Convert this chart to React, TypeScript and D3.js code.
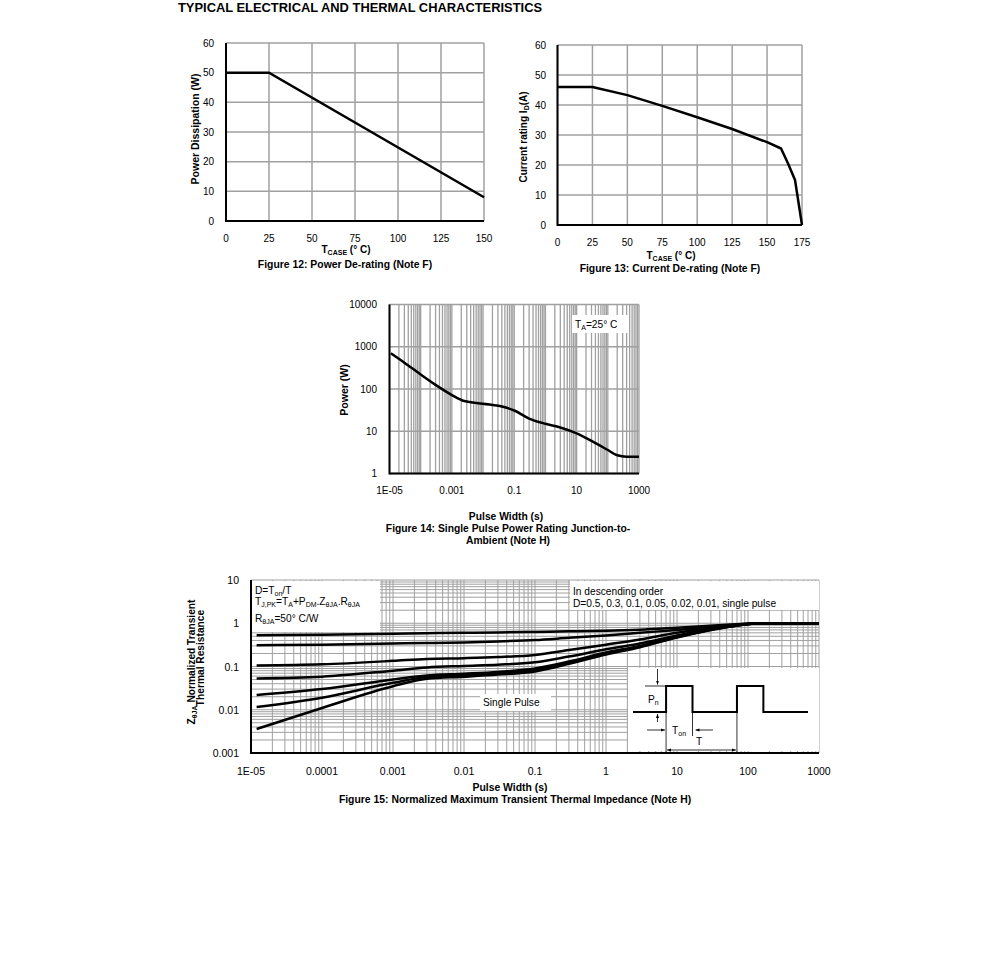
import React from 'react';
import * as d3 from 'd3';

const FONT = "'Liberation Sans', Arial, Helvetica, sans-serif";
const GRID = '#a0a0a0';
const INK = '#000';

// Figure 12: power de-rating
const fig12Temp = [0, 25, 150];
const fig12Power = [50, 50, 8];
const fig12XTicks = [0, 25, 50, 75, 100, 125, 150];
const fig12YTicks = [0, 10, 20, 30, 40, 50, 60];

// Figure 13: current de-rating
const fig13Temp = [0, 25, 50, 75, 100, 125, 150, 160, 165, 170, 175];
const fig13Current = [46, 46, 43.3, 39.7, 35.9, 32, 27.6, 25.5, 20.5, 15, 0];
const fig13XTicks = [0, 25, 50, 75, 100, 125, 150, 175];
const fig13YTicks = [0, 10, 20, 30, 40, 50, 60];

// Figure 14: single pulse power rating
const fig14Width = [1.1e-5, 3e-5, 1e-4, 3e-4, 1e-3, 2.5e-3, 0.01, 0.05, 0.1, 0.3, 1, 3, 10, 30, 100, 200, 400, 1000];
const fig14Power = [700, 420, 220, 125, 72, 52, 45, 37, 31, 20, 15, 12.3, 8.9, 5.9, 3.6, 2.7, 2.5, 2.5];
const fig14XTicks = [1e-5, 1e-3, 0.1, 10, 1000];
const fig14XLabels = ['1E-05', '0.001', '0.1', '10', '1000'];
const fig14YTicks = [1, 10, 100, 1000, 10000];
const fig14YLabels = ['1', '10', '100', '1000', '10000'];

// Figure 15: normalized transient thermal impedance
const fig15Time = [1.2e-5, 1e-4, 1e-3, 3e-3, 0.01, 0.03, 0.1, 0.3, 1, 3, 10, 50, 150, 1000];
const fig15D05 = [0.53, 0.54, 0.57, 0.59, 0.6, 0.61, 0.63, 0.65, 0.67, 0.71, 0.79, 0.92, 1, 1];
const fig15D03 = [0.31, 0.32, 0.34, 0.35, 0.36, 0.38, 0.41, 0.46, 0.52, 0.6, 0.7, 0.88, 1, 1];
const fig15D01 = [0.105, 0.112, 0.135, 0.15, 0.156, 0.165, 0.185, 0.24, 0.32, 0.42, 0.6, 0.86, 1, 1];
const fig15D005 = [0.053, 0.058, 0.08, 0.095, 0.103, 0.11, 0.125, 0.17, 0.25, 0.34, 0.52, 0.84, 1, 1];
const fig15D002 = [0.022, 0.03, 0.05, 0.062, 0.068, 0.075, 0.09, 0.13, 0.21, 0.3, 0.49, 0.82, 1, 1];
const fig15D001 = [0.0116, 0.019, 0.042, 0.057, 0.063, 0.07, 0.083, 0.12, 0.2, 0.29, 0.48, 0.82, 1, 1];
const fig15Single = [0.0036, 0.011, 0.035, 0.052, 0.058, 0.065, 0.077, 0.115, 0.19, 0.28, 0.47, 0.81, 1, 1];
const fig15Series = [fig15D05, fig15D03, fig15D01, fig15D005, fig15D002, fig15D001, fig15Single];
const fig15XTicks = [1e-5, 1e-4, 1e-3, 0.01, 0.1, 1, 10, 100, 1000];
const fig15XLabels = ['1E-05', '0.0001', '0.001', '0.01', '0.1', '1', '10', '100', '1000'];
const fig15YTicks = [0.001, 0.01, 0.1, 1, 10];
const fig15YLabels = ['0.001', '0.01', '0.1', '1', '10'];

// inset pulse train, in fractions of the inset width
const pulseEdges = [0, 0.189, 0.34, 0.594, 0.745, 1];

const minorTicks = (lo: number, hi: number) => {
  const out: number[] = [];
  for (let e = lo; e < hi; e++) for (let m = 1; m <= 9; m++) out.push(m * Math.pow(10, e));
  out.push(Math.pow(10, hi));
  return out;
};

const tick = { fontFamily: FONT, fontSize: 10, fill: INK } as const;
const bold = { fontFamily: FONT, fontWeight: 700, fill: INK } as const;

const Figure12 = () => {
  const x = d3.scaleLinear().domain([0, 150]).range([226, 484]);
  const y = d3.scaleLinear().domain([0, 60]).range([221, 43]);
  const line = d3.line<number>().x((_, i) => x(fig12Temp[i])).y(d => y(d));
  return (
    <g>
      {fig12XTicks.map(t => <line key={'gx' + t} x1={x(t)} x2={x(t)} y1={y(0)} y2={y(60)} stroke={GRID} strokeWidth={1.5} />)}
      {fig12YTicks.map(t => <line key={'gy' + t} x1={x(0)} x2={x(150)} y1={y(t)} y2={y(t)} stroke={GRID} strokeWidth={1.5} />)}
      <line x1={x(0)} x2={x(0)} y1={y(60)} y2={y(0) + 1} stroke={INK} strokeWidth={2} />
      <line x1={x(0)} x2={x(150)} y1={y(0)} y2={y(0)} stroke={INK} strokeWidth={2} />
      <path d={line(fig12Power) || ''} fill="none" stroke={INK} strokeWidth={2.5} />
      {fig12XTicks.map(t => <text key={'tx' + t} x={x(t)} y={241.5} textAnchor="middle" {...tick}>{t}</text>)}
      {fig12YTicks.map(t => <text key={'ty' + t} x={214} y={y(t) + 3.5} textAnchor="end" {...tick}>{t}</text>)}
      <text transform="translate(199,129) rotate(-90)" textAnchor="middle" fontSize={10.5} {...bold}>Power Dissipation (W)</text>
      <text x={346} y={253} textAnchor="middle" fontSize={10} {...bold}>T<tspan fontSize={7} dy={2}>CASE</tspan><tspan dy={-2}> (°  C)</tspan></text>
      <text x={345} y={267.5} textAnchor="middle" fontSize={10.4} {...bold}>Figure 12: Power De-rating (Note F)</text>
    </g>
  );
};

const Figure13 = () => {
  const x = d3.scaleLinear().domain([0, 175]).range([557.5, 802]);
  const y = d3.scaleLinear().domain([0, 60]).range([225, 45]);
  const line = d3.line<number>().x((_, i) => x(fig13Temp[i])).y(d => y(d));
  return (
    <g>
      {fig13XTicks.map(t => <line key={'gx' + t} x1={x(t)} x2={x(t)} y1={y(0)} y2={y(60)} stroke={GRID} strokeWidth={1.5} />)}
      {fig13YTicks.map(t => <line key={'gy' + t} x1={x(0)} x2={x(175)} y1={y(t)} y2={y(t)} stroke={GRID} strokeWidth={1.5} />)}
      <line x1={x(0)} x2={x(0)} y1={y(60)} y2={y(0) + 1} stroke={INK} strokeWidth={2} />
      <line x1={x(0)} x2={x(175)} y1={y(0)} y2={y(0)} stroke={INK} strokeWidth={2} />
      <path d={line(fig13Current) || ''} fill="none" stroke={INK} strokeWidth={2.5} strokeLinejoin="round" />
      {fig13XTicks.map(t => <text key={'tx' + t} x={x(t)} y={245.5} textAnchor="middle" {...tick}>{t}</text>)}
      {fig13YTicks.map(t => <text key={'ty' + t} x={546} y={y(t) + 3.5} textAnchor="end" {...tick}>{t}</text>)}
      <text transform="translate(527,137) rotate(-90)" textAnchor="middle" fontSize={10} {...bold}>Current rating I<tspan fontSize={7} dy={2}>D</tspan><tspan dy={-2}>(A)</tspan></text>
      <text x={671} y={259} textAnchor="middle" fontSize={10} {...bold}>T<tspan fontSize={7} dy={2}>CASE</tspan><tspan dy={-2}> (°  C)</tspan></text>
      <text x={670} y={272} textAnchor="middle" fontSize={10.4} {...bold}>Figure 13: Current De-rating (Note F)</text>
    </g>
  );
};

const Figure14 = () => {
  const x = d3.scaleLog().domain([1e-5, 1000]).range([389.5, 639]);
  const y = d3.scaleLog().domain([1, 10000]).range([473.5, 304.5]);
  const line = d3.line<number>().x((_, i) => x(fig14Width[i])).y(d => y(d)).curve(d3.curveMonotoneX);
  return (
    <g>
      {minorTicks(-5, 3).map((t, i) => <line key={'gx' + i} x1={x(t)} x2={x(t)} y1={y(1)} y2={y(10000)} stroke={GRID} strokeWidth={1.3} />)}
      {fig14YTicks.map(t => <line key={'gy' + t} x1={x(1e-5)} x2={x(1000)} y1={y(t)} y2={y(t)} stroke={GRID} strokeWidth={1.5} />)}
      <line x1={x(1e-5)} x2={x(1e-5)} y1={y(10000)} y2={y(1) + 1} stroke={INK} strokeWidth={2} />
      <line x1={x(1e-5)} x2={x(1000)} y1={y(1)} y2={y(1)} stroke={INK} strokeWidth={2} />
      <rect x={572} y={315} width={57} height={18} fill="#fff" />
      <text x={575} y={328} fontFamily={FONT} fontSize={10.2}>T<tspan fontSize={7} dy={2}>A</tspan><tspan dy={-2}>=25°  C</tspan></text>
      <path d={line(fig14Power) || ''} fill="none" stroke={INK} strokeWidth={2.5} />
      {fig14XTicks.map((t, i) => <text key={'tx' + t} x={x(t)} y={493.5} textAnchor="middle" {...tick}>{fig14XLabels[i]}</text>)}
      {fig14YTicks.map((t, i) => <text key={'ty' + t} x={377} y={y(t) + 3.5} textAnchor="end" {...tick}>{fig14YLabels[i]}</text>)}
      <text transform="translate(348,390) rotate(-90)" textAnchor="middle" fontSize={10.5} {...bold}>Power (W)</text>
      <text x={506} y={520} textAnchor="middle" fontSize={10.3} {...bold}>Pulse Width (s)</text>
      <text x={508} y={532} textAnchor="middle" fontSize={10.3} {...bold}>Figure 14: Single Pulse Power Rating Junction-to-</text>
      <text x={508} y={544} textAnchor="middle" fontSize={10.3} {...bold}>Ambient (Note H)</text>
    </g>
  );
};

const Figure15 = () => {
  const x = d3.scaleLog().domain([1e-5, 1000]).range([251, 819]);
  const y = d3.scaleLog().domain([0.001, 10]).range([753, 580]);
  const line = d3.line<number>().x((_, i) => x(fig15Time[i])).y(d => y(d)).curve(d3.curveMonotoneX);
  const ix = d3.scaleLinear().domain([0, 1]).range([633, 808]);
  const iy = d3.scaleLinear().domain([0, 1]).range([712, 686]);
  const pulse: [number, number][] = [
    [0, 0], [pulseEdges[1], 0], [pulseEdges[1], 1], [pulseEdges[2], 1], [pulseEdges[2], 0],
    [pulseEdges[3], 0], [pulseEdges[3], 1], [pulseEdges[4], 1], [pulseEdges[4], 0], [1, 0],
  ];
  const pulsePath = d3.line<[number, number]>().x(d => ix(d[0])).y(d => iy(d[1]))(pulse) || '';
  const r1 = ix(pulseEdges[1]);
  const f1 = ix(pulseEdges[2]);
  const r2 = ix(pulseEdges[3]);
  const sm = { fontFamily: FONT, fontSize: 10.2, fill: INK } as const;
  const sub = 7;
  return (
    <g>
      <defs>
        <marker id="ah" viewBox="0 0 10 10" refX={10} refY={5} markerWidth={5} markerHeight={5} orient="auto-start-reverse">
          <path d="M0,1 L10,5 L0,9 z" fill={INK} />
        </marker>
      </defs>
      {minorTicks(-5, 3).map((t, i) => <line key={'gx' + i} x1={x(t)} x2={x(t)} y1={y(0.001)} y2={y(10)} stroke={GRID} strokeWidth={1} />)}
      {minorTicks(-3, 1).map((t, i) => <line key={'gy' + i} x1={x(1e-5)} x2={x(1000)} y1={y(t)} y2={y(t)} stroke={GRID} strokeWidth={1} />)}
      <line x1={x(1e-5)} x2={x(1e-5)} y1={y(10)} y2={y(0.001) + 1} stroke={INK} strokeWidth={2} />
      <line x1={x(1e-5)} x2={x(1000)} y1={y(0.001)} y2={y(0.001)} stroke={INK} strokeWidth={2} />

      <rect x={252} y={581} width={128} height={51} fill="#fff" />
      <text x={255} y={593.5} {...sm}>D=T<tspan fontSize={sub} dy={2}>on</tspan><tspan dy={-2}>/T</tspan></text>
      <text x={255} y={605} {...sm}>T<tspan fontSize={sub} dy={2}>J,PK</tspan><tspan dy={-2}>=T</tspan><tspan fontSize={sub} dy={2}>A</tspan><tspan dy={-2}>+P</tspan><tspan fontSize={sub} dy={2}>DM</tspan><tspan dy={-2}>.Z</tspan><tspan fontSize={sub} dy={2}>θJA</tspan><tspan dy={-2}>.R</tspan><tspan fontSize={sub} dy={2}>θJA</tspan></text>
      <text x={255} y={622} {...sm}>R<tspan fontSize={sub} dy={2}>θJA</tspan><tspan dy={-2}>=50°  C/W</tspan></text>

      <rect x={570} y={581} width={249} height={29} fill="#fff" />
      <text x={573} y={595} {...sm}>In descending order</text>
      <text x={573} y={607} {...sm}>D=0.5, 0.3, 0.1, 0.05, 0.02, 0.01, single pulse</text>

      <rect x={480} y={694} width={71} height={17} fill="#fff" />
      <text x={483} y={706} {...sm}>Single Pulse</text>

      <rect x={628} y={668} width={191} height={83} fill="#fff" />
      <path d={pulsePath} fill="none" stroke={INK} strokeWidth={2} />
      <line x1={645} x2={r1} y1={iy(1)} y2={iy(1)} stroke={INK} strokeWidth={0.8} />
      <line x1={657.5} x2={657.5} y1={669} y2={iy(1) - 1.5} stroke={INK} strokeWidth={0.8} markerEnd="url(#ah)" />
      <line x1={657.5} x2={657.5} y1={722} y2={iy(0) + 2} stroke={INK} strokeWidth={0.8} markerEnd="url(#ah)" />
      <text x={648} y={703} {...sm}>P<tspan fontSize={sub} dy={1.5}>n</tspan></text>
      <line x1={r1} x2={r1} y1={iy(0)} y2={753} stroke={INK} strokeWidth={0.8} />
      <line x1={f1} x2={f1} y1={iy(0)} y2={736} stroke={INK} strokeWidth={0.8} />
      <line x1={r2} x2={r2} y1={iy(0)} y2={753} stroke={INK} strokeWidth={0.8} />
      <line x1={647} x2={r1 - 1} y1={730} y2={730} stroke={INK} strokeWidth={0.8} markerEnd="url(#ah)" />
      <line x1={713} x2={f1 + 3} y1={730} y2={730} stroke={INK} strokeWidth={0.8} markerEnd="url(#ah)" />
      <text x={672} y={734} {...sm}>T<tspan fontSize={sub} dy={1.5}>on</tspan></text>
      <line x1={r1 + 1} x2={r2 - 1} y1={750} y2={750} stroke={INK} strokeWidth={0.8} markerStart="url(#ah)" markerEnd="url(#ah)" />
      <text x={696} y={745} {...sm}>T</text>

      {fig15Series.map((s, i) => <path key={'s' + i} d={line(s) || ''} fill="none" stroke={INK} strokeWidth={2.5} />)}

      {fig15XTicks.map((t, i) => <text key={'tx' + i} x={x(t)} y={774.5} textAnchor="middle" fontFamily={FONT} fontSize={10.5}>{fig15XLabels[i]}</text>)}
      {fig15YTicks.map((t, i) => <text key={'ty' + i} x={239} y={y(t) + 4} textAnchor="end" fontFamily={FONT} fontSize={10.5}>{fig15YLabels[i]}</text>)}
      <text transform="translate(194.5,662) rotate(-90)" textAnchor="middle" fontSize={10.2} {...bold}>Z<tspan fontSize={7} dy={2}>θJA</tspan><tspan dy={-2}> Normalized Transient</tspan></text>
      <text transform="translate(204,658) rotate(-90)" textAnchor="middle" fontSize={10.2} {...bold}>Thermal Resistance</text>
      <text x={510} y={791} textAnchor="middle" fontSize={10.4} {...bold}>Pulse Width (s)</text>
      <text x={515} y={803} textAnchor="middle" fontSize={10.4} {...bold}>Figure 15: Normalized Maximum Transient Thermal Impedance (Note H)</text>
    </g>
  );
};

export default function App() {
  return (
    <svg width={991} height={963} style={{ position: 'absolute', left: 0, top: 0, background: '#fff' }}>
      <rect width={991} height={963} fill="#fff" />
      <text x={178} y={12} fontSize={12.9} {...bold}>TYPICAL ELECTRICAL AND THERMAL CHARACTERISTICS</text>
      <Figure12 />
      <Figure13 />
      <Figure14 />
      <Figure15 />
    </svg>
  );
}
